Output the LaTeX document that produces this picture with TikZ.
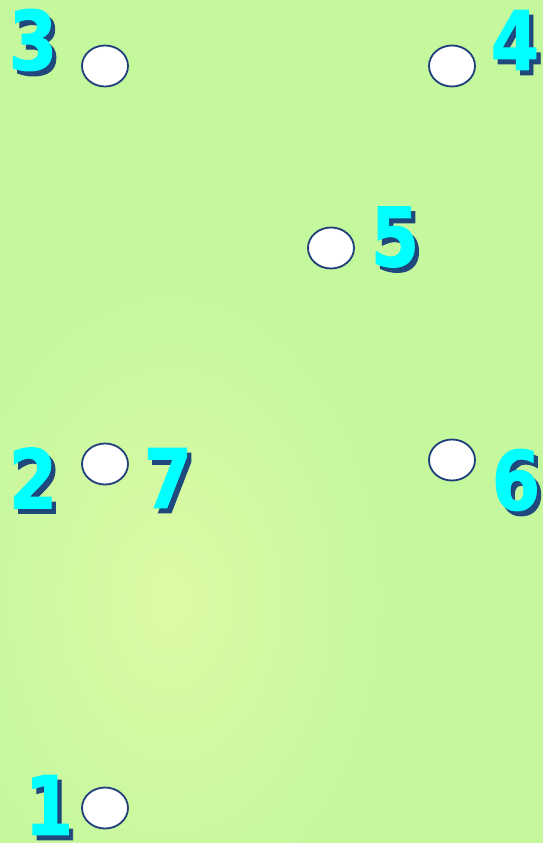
\documentclass[tikz,border=0pt]{standalone}
\usepackage{fontspec}
\newfontfamily\digitfont[FakeBold=1.2]{DejaVu Sans}
\usetikzlibrary{shapes.geometric, positioning}

\definecolor{bggreen}{RGB}{197,247,157}
\definecolor{bgglow}{RGB}{220,250,164}
\definecolor{spotblue}{RGB}{31,63,122}
\definecolor{numcyan}{RGB}{0,255,255}
\definecolor{numshade}{RGB}{31,73,125}

% number with a dropped shadow behind it
\newcommand{\marknum}[3]{%
    \node[num, text=numshade, shift={(5,5)}] at #2 {#3};
    \node[num] (#1) at #2 {#3};
}

\begin{document}
\begin{tikzpicture}[
    x=1pt, y=-1pt,
    spot/.style={ellipse, draw=spotblue, line width=1.8pt, fill=white, minimum width=46pt, minimum height=41pt, inner sep=0pt},
    num/.style={font=\digitfont\bfseries\fontsize{82}{82}\selectfont, text=numcyan, inner sep=0pt, xscale=0.85}
]
    % background
    \useasboundingbox (0,0) rectangle (543,843);
    \clip (0,0) rectangle (543,843);
    \fill[bggreen] (0,0) rectangle (543,843);
    \shade[inner color=bgglow, outer color=bggreen] (170,600) ellipse (230 and 330);

    % spots
    \node[spot] (s3) at (105,66) {};
    \node[spot] (s4) at (452,66) {};
    \node[spot] (s5) at (331,248) {};
    \node[spot] (s2) at (105,464) {};
    \node[spot] (s6) at (452,460) {};
    \node[spot] (s1) at (105,808) {};

    % numbers
    \marknum{n3}{(33,40)}{3}
    \marknum{n4}{(515,40)}{4}
    \marknum{n5}{(395,237)}{5}
    \marknum{n2}{(33,478)}{2}
    \marknum{n7}{(168,478)}{7}
    \marknum{n6}{(516,480)}{6}
    \marknum{n1}{(49,805)}{1}
\end{tikzpicture}
\end{document}
